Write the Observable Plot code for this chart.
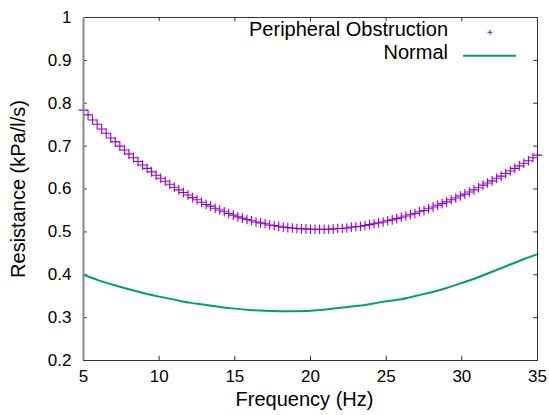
<!DOCTYPE html>
<html><head><meta charset="utf-8">
<script src="https://cdn.jsdelivr.net/npm/d3@7"></script>
<script src="https://cdn.jsdelivr.net/npm/@observablehq/plot@0.6"></script>
<style>body{margin:0;background:#fff;} #chart{width:549px;height:415px;}</style>
</head><body><div id="chart"></div>
<script>
const periphFreq = [5,5.3,5.6,5.9,6.2,6.5,6.8,7.1,7.4,7.7,8,8.3,8.6,8.9,9.2,9.5,9.8,10.1,10.4,10.7,11,11.3,11.6,11.9,12.2,12.5,12.8,13.1,13.4,13.7,14,14.3,14.6,14.9,15.2,15.5,15.8,16.1,16.4,16.7,17,17.3,17.6,17.9,18.2,18.5,18.8,19.1,19.4,19.7,20,20.3,20.6,20.9,21.2,21.5,21.8,22.1,22.4,22.7,23,23.3,23.6,23.9,24.2,24.5,24.8,25.1,25.4,25.7,26,26.3,26.6,26.9,27.2,27.5,27.8,28.1,28.4,28.7,29,29.3,29.6,29.9,30.2,30.5,30.8,31.1,31.4,31.7,32,32.3,32.6,32.9,33.2,33.5,33.8,34.1,34.4,34.7,35];
const periphRes = [0.784,0.773,0.761,0.751,0.740,0.730,0.719,0.710,0.700,0.691,0.682,0.673,0.664,0.656,0.648,0.640,0.632,0.625,0.618,0.611,0.604,0.598,0.592,0.586,0.580,0.575,0.569,0.564,0.560,0.555,0.551,0.547,0.543,0.539,0.535,0.532,0.529,0.526,0.523,0.521,0.519,0.516,0.515,0.513,0.511,0.510,0.509,0.508,0.507,0.507,0.506,0.506,0.506,0.506,0.506,0.507,0.508,0.508,0.509,0.511,0.512,0.513,0.515,0.517,0.519,0.521,0.523,0.526,0.528,0.531,0.534,0.537,0.540,0.543,0.547,0.550,0.554,0.558,0.562,0.566,0.570,0.575,0.579,0.584,0.588,0.593,0.598,0.603,0.609,0.614,0.619,0.625,0.630,0.636,0.642,0.648,0.654,0.660,0.666,0.673,0.679];
const normalFreq = [5,6,7,8,9,10,11,12,13,14,15,16,17,18,19,20,21,22,23,24,25,26,27,28,29,30,31,32,33,34,35];
const normalRes = [0.400,0.387,0.376,0.366,0.357,0.349,0.342,0.335,0.330,0.325,0.321,0.318,0.316,0.315,0.315,0.316,0.319,0.323,0.327,0.332,0.338,0.343,0.351,0.359,0.369,0.381,0.393,0.407,0.421,0.435,0.448];
const xTicks = [5,10,15,20,25,30,35];
const yTicks = [0.2,0.3,0.4,0.5,0.6,0.7,0.8,0.9,1];
const seriesNames = ["Peripheral Obstruction","Normal"];
const colors = ["#9400d3","#009e73"];
const xLabel = "Frequency (Hz)";
const yLabel = "Resistance (kPa/l/s)";

const periph = periphFreq.map((f,i)=>({f, r: periphRes[i]}));
const normal = normalFreq.map((f,i)=>({f, r: normalRes[i]}));
const font = "'Liberation Sans', Arial, sans-serif";
const fmt = d => String(+d.toFixed(1));

const chart = Plot.plot({
  width: 549, height: 415,
  marginLeft: 83, marginRight: 12, marginTop: 17, marginBottom: 55,
  style: {fontFamily: font, background: "#fff", color: "#000"},
  x: {domain: [5, 35]},
  y: {domain: [0.2, 1]},
  marks: [
    Plot.axisX({ticks: xTicks, tickSize: 0, tickPadding: 9, fontSize: 17, label: null, tickFormat: fmt}),
    Plot.axisY({ticks: yTicks, tickSize: 0, tickPadding: 12, fontSize: 17, label: null, tickFormat: fmt}),
    Plot.ruleX(xTicks, {x: d => d, y1: 0.2, y2: 0.21, stroke: "#333"}),
    Plot.ruleX(xTicks, {x: d => d, y1: 0.99, y2: 1, stroke: "#333"}),
    Plot.ruleY(yTicks, {y: d => d, x1: 5, x2: 5.25, stroke: "#333"}),
    Plot.ruleY(yTicks, {y: d => d, x1: 34.75, x2: 35, stroke: "#333"}),
    Plot.line(normal, {x: "f", y: "r", stroke: colors[1], strokeWidth: 2, curve: "catmull-rom"}),
    Plot.dot(periph, {x: "f", y: "r", symbol: "plus", r: 3.2, stroke: colors[0], strokeWidth: 1.1}),
    Plot.frame({stroke: "#333"}),
    Plot.ruleX([5], {stroke: "#888", strokeWidth: 2}),
    Plot.text([xLabel], {text: d => d, frameAnchor: "bottom", textAnchor: "middle", lineAnchor: "bottom", dx: -6, dy: 45, fontSize: 20, fill: "#000"}),
    Plot.text([yLabel], {text: d => d, frameAnchor: "left", textAnchor: "middle", rotate: -90, lineAnchor: "bottom", dx: -59, fontSize: 20, fill: "#000"})
  ]
});

const svg = d3.select(chart);
const lg = svg.append("g").attr("font-family", font).attr("font-size", 20).attr("fill", "#000");
lg.append("text").attr("x", 448).attr("y", 35.5).attr("text-anchor", "end").text(seriesNames[0]);
lg.append("text").attr("x", 448).attr("y", 59).attr("text-anchor", "end").text(seriesNames[1]);
lg.append("path").attr("d", "M487.5,32.3H492.5M490,29.8V34.8").attr("stroke", colors[0]).attr("fill", "none");
lg.append("line").attr("x1", 463).attr("x2", 516).attr("y1", 55.7).attr("y2", 55.7).attr("stroke", colors[1]).attr("stroke-width", 2);

document.getElementById("chart").appendChild(chart);
</script>
</body></html>
